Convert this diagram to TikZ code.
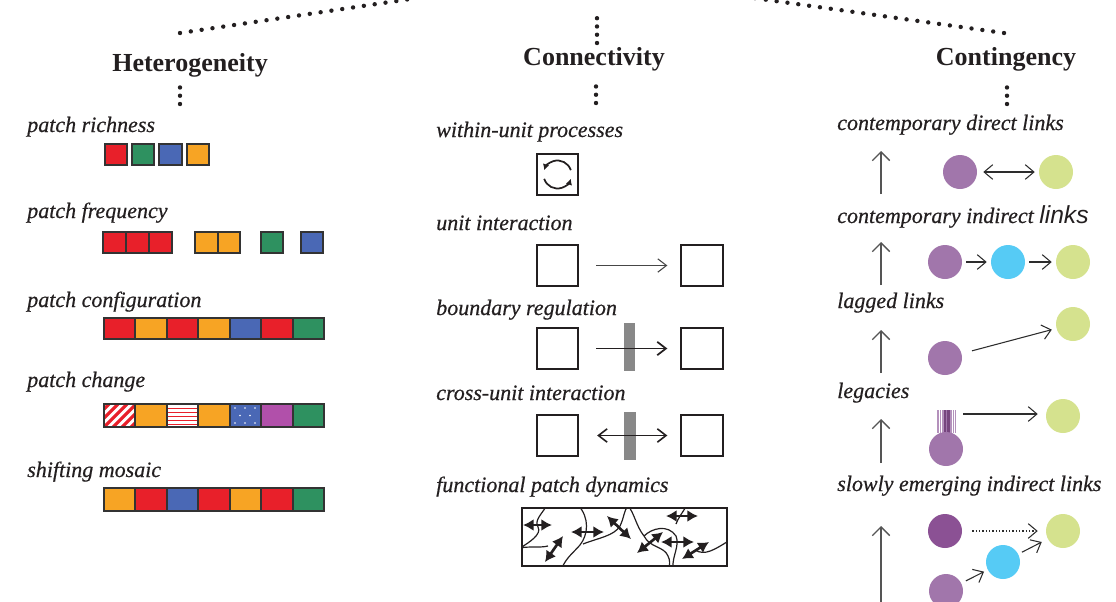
\documentclass[tikz,border=0pt]{standalone}
\usepackage{fontspec}
\setmainfont{Liberation Serif}
\setsansfont{Liberation Sans}
\newfontface\lblfont{Liberation Serif Italic}[FakeBold=0.5]
\usetikzlibrary{arrows.meta}

\definecolor{ink}{RGB}{35,31,32}
\definecolor{pred}{RGB}{232,32,42}
\definecolor{pgreen}{RGB}{46,145,96}
\definecolor{pblue}{RGB}{74,104,181}
\definecolor{porange}{RGB}{247,164,36}
\definecolor{pviolet}{RGB}{177,80,170}
\definecolor{lilac}{RGB}{161,118,171}
\definecolor{plum}{RGB}{139,81,148}
\definecolor{lime}{RGB}{213,226,142}
\definecolor{sky}{RGB}{86,203,245}
\definecolor{gatefill}{RGB}{136,136,136}

\begin{document}
\begin{tikzpicture}[x=0.75pt,y=0.75pt,yscale=-1,xscale=1,
  heading/.style={font=\fontsize{19.5}{22}\selectfont\bfseries, text=ink, inner sep=0pt, anchor=base},
  lbl/.style={font=\fontsize{16.5}{19}\lblfont, text=ink, inner sep=0pt, anchor=base west},
  dotrow/.style={draw=ink, line width=3.3pt, line cap=round, dash pattern=on 0pt off 8.2pt},
  vdotrow/.style={draw=ink, line width=3.3pt, line cap=round, dash pattern=on 0pt off 6.2pt},
  tile/.style={draw={rgb,255:red,51;green,51;blue,51}, line width=0.9pt},
  unit/.style={draw=ink, line width=1.5pt, minimum size=31pt, inner sep=0pt},
  gate/.style={fill=gatefill, minimum width=8.5pt, minimum height=36pt, inner sep=0pt},
  flow/.style={draw=ink, line width=1pt, -{Straight Barb[length=6.5pt,width=10pt]}, shorten <=12.75pt, shorten >=9.75pt},
  spot/.style={circle, minimum size=25.5pt, inner sep=0pt},
  link/.style={draw={rgb,255:red,45;green,45;blue,45}, line width=0.8pt, -{Straight Barb[length=6.5pt,width=11pt]}, shorten <=3pt, shorten >=3pt},
  uparr/.style={draw={rgb,255:red,85;green,85;blue,85}, line width=1pt, -{Straight Barb[length=6.5pt,width=13pt]}},
  twoway/.style={draw=ink, line width=2pt, {Latex[length=8pt,width=9pt]}-{Latex[length=8pt,width=9pt]}}
]
\useasboundingbox (0,0) rectangle (1116,601);

%Dotted Lines: up to the parent
\coordinate (rootL) at (417,-2);
\coordinate (rootM) at (597,17);
\coordinate (rootR) at (754,-2);
\coordinate (hetTop) at (180,33);
\coordinate (conTop) at (597,43);
\coordinate (cgyTop) at (1004,33);
\draw [dotrow] (hetTop) -- (rootL);
\draw [vdotrow] (conTop) -- (rootM);
\draw [dotrow] (cgyTop) -- (rootR);

%Text Node: headings
\node [heading] (het) at (190,71) {Heterogeneity};
\node [heading] (con) at (594,65) {Connectivity};
\node [heading] (cgy) at (1006,65) {Contingency};

%Dotted Lines: below the headings
\coordinate (hetA) at (180,86);
\coordinate (hetB) at (180,104);
\coordinate (conA) at (596,85);
\coordinate (conB) at (596,103);
\coordinate (cgyA) at (1007,86);
\coordinate (cgyB) at (1007,104);
\draw [vdotrow] (hetB) -- (hetA);
\draw [vdotrow] (conB) -- (conA);
\draw [vdotrow] (cgyB) -- (cgyA);

%Text Node: heterogeneity
\node [lbl] (richLbl) at (27,132) {patch richness};
\node [lbl] (freqLbl) at (27,218) {patch frequency};
\node [lbl] (confLbl) at (27,307) {patch configuration};
\node [lbl] (chgLbl) at (27,387) {patch change};
\node [lbl] (mosLbl) at (27,477) {shifting mosaic};

%Shape: Squares (richness)
\draw [tile, fill=pred] (105,144) rectangle (127,165);
\draw [tile, fill=pgreen] (132,144) rectangle (154,165);
\draw [tile, fill=pblue] (159,144) rectangle (182,165);
\draw [tile, fill=porange] (187,144) rectangle (209,165);

%Shape: Squares (frequency)
\draw [tile, fill=pred] (103,232) rectangle (126,253);
\draw [tile, fill=pred] (126,232) rectangle (149,253);
\draw [tile, fill=pred] (149,232) rectangle (172,253);
\draw [tile, fill=porange] (195,232) rectangle (218,253);
\draw [tile, fill=porange] (218,232) rectangle (240,253);
\draw [tile, fill=pgreen] (261,232) rectangle (283,253);
\draw [tile, fill=pblue] (301,232) rectangle (323,253);

%Shape: Squares (configuration)
\draw [tile, fill=pred] (104,318) rectangle (135,339);
\draw [tile, fill=porange] (135,318) rectangle (167,339);
\draw [tile, fill=pred] (167,318) rectangle (198,339);
\draw [tile, fill=porange] (198,318) rectangle (230,339);
\draw [tile, fill=pblue] (230,318) rectangle (261,339);
\draw [tile, fill=pred] (261,318) rectangle (293,339);
\draw [tile, fill=pgreen] (293,318) rectangle (324,339);

%Shape: Squares (change)
\begin{scope}
\clip (104,404) rectangle (135,427);
\draw [pred, line width=2.4pt] (86,427) -- (109,404) (95,427) -- (118,404) (104,427) -- (127,404) (113,427) -- (136,404) (122,427) -- (145,404) (131,427) -- (154,404);
\end{scope}
\draw [tile] (104,404) rectangle (135,427);
\draw [tile, fill=porange] (135,404) rectangle (167,427);
\draw [pred, line width=1.1pt] (167,408.5) -- (198,408.5) (167,412.5) -- (198,412.5) (167,416.5) -- (198,416.5) (167,420.5) -- (198,420.5) (167,424.5) -- (198,424.5);
\draw [tile] (167,404) rectangle (198,427);
\draw [tile, fill=porange] (198,404) rectangle (230,427);
\draw [tile, fill=pblue] (230,404) rectangle (261,427);
\fill [white] (235,408) circle (0.9) (245,408) circle (0.9) (255,408) circle (0.9) (240,415.5) circle (0.9) (250,415.5) circle (0.9) (235,423) circle (0.9) (245,423) circle (0.9) (255,423) circle (0.9);
\draw [tile, fill=pviolet] (261,404) rectangle (293,427);
\draw [tile, fill=pgreen] (293,404) rectangle (324,427);

%Shape: Squares (mosaic)
\draw [tile, fill=porange] (104,488) rectangle (135,511);
\draw [tile, fill=pred] (135,488) rectangle (167,511);
\draw [tile, fill=pblue] (167,488) rectangle (198,511);
\draw [tile, fill=pred] (198,488) rectangle (230,511);
\draw [tile, fill=porange] (230,488) rectangle (261,511);
\draw [tile, fill=pred] (261,488) rectangle (293,511);
\draw [tile, fill=pgreen] (293,488) rectangle (324,511);

%Text Node: connectivity
\node [lbl] (wuLbl) at (436,137) {within-unit processes};
\node [lbl] (uiLbl) at (436,230) {unit interaction};
\node [lbl] (brLbl) at (436,315) {boundary regulation};
\node [lbl] (cuLbl) at (436,400) {cross-unit interaction};
\node [lbl] (fpLbl) at (436,492) {functional patch dynamics};

%Shape: Square with cycle
\node [unit] (wu) at (557.5,174.5) {};
\draw [ink, line width=1.3pt, -{Latex[length=4.5pt,width=5pt]}] ([shift={(-18:14)}]wu.center) arc (-18:-162:14);
\draw [ink, line width=1.3pt, -{Latex[length=4.5pt,width=5pt]}] ([shift={(162:14)}]wu.center) arc (162:18:14);

%Shape: Squares and Straight Lines
\node [unit] (uiA) at (557.5,265.5) {};
\node [unit] (uiB) at (702,265.5) {};
\draw [flow, draw={rgb,255:red,70;green,70;blue,70}, line width=0.8pt] (uiA) -- (uiB);

\node [unit] (brA) at (557.5,348.5) {};
\node [unit] (brB) at (702,348.5) {};
\node [gate] (brG) at (629.5,347) {};
\draw [flow, line width=1.3pt] (brA) -- (brB);

\node [unit] (cuA) at (557.5,435.5) {};
\node [unit] (cuB) at (702,435.5) {};
\node [gate] (cuG) at (630,436) {};
\draw [flow, line width=1.2pt, {Straight Barb[length=6.5pt,width=10pt]}-{Straight Barb[length=6.5pt,width=10pt]}, shorten <=13.5pt] (cuA) -- (cuB);

%Curve Lines: patch borders
\begin{scope}
\clip (522,508) rectangle (727,566);
\draw [ink, line width=0.9pt]
  (547,505) .. controls (542,514) and (534,520) .. (538,527) .. controls (542,534) and (530,542) .. (520,548)
  (520,548) .. controls (530,546) and (540,548) .. (548,546)
  (578,505) .. controls (590,518) and (588,535) .. (580,545) .. controls (573,553) and (566,558) .. (562,568)
  (583,544) .. controls (598,538) and (614,536) .. (620,526) .. controls (624,518) and (624,510) .. (628,506) .. controls (634,512) and (636,526) .. (644,536)
  (644,536) .. controls (652,528) and (668,524) .. (676,536) .. controls (680,546) and (672,556) .. (673,568)
  (644,536) .. controls (650,548) and (664,546) .. (668,556) .. controls (670,560) and (670,564) .. (669,568)
  (687,505) .. controls (683,512) and (678,518) .. (676,524)
  (695,550) .. controls (705,556) and (714,550) .. (730,540);
\end{scope}
\draw [ink, line width=1.2pt] (522,508) rectangle (727,566);

%Straight Lines: fluxes
\draw [twoway] (523,525) -- (552,525);
\draw [twoway] (563,536) -- (545,562);
\draw [twoway] (571,532) -- (604,532);
\draw [twoway] (607,516) -- (631,539);
\draw [twoway] (663,532) -- (637,553);
\draw [twoway] (666,516) -- (698,516);
\draw [twoway] (661,542) -- (694,542);
\draw [twoway] (709,542) -- (682,559);

%Text Node: contingency
\node [lbl] (dlLbl) at (837,130) {contemporary direct links};
\node [lbl] (ilLbl) at (837,223) {contemporary indirect {\sffamily\itshape\fontsize{18.5}{20}\selectfont links}};
\node [lbl] (lgLbl) at (837,308) {lagged links};
\node [lbl] (lcLbl) at (837,398) {legacies};
\node [lbl] (seLbl) at (837,491) {slowly emerging indirect links};

%Straight Lines: upward
\coordinate (upA0) at (881,194); \coordinate (upA1) at (881,151);
\coordinate (upB0) at (881,285); \coordinate (upB1) at (881,242);
\coordinate (upC0) at (881,373); \coordinate (upC1) at (881,330);
\coordinate (upD0) at (881,463); \coordinate (upD1) at (881,419);
\coordinate (upE0) at (881,606); \coordinate (upE1) at (881,526);
\draw [uparr] (upA0) -- (upA1);
\draw [uparr] (upB0) -- (upB1);
\draw [uparr] (upC0) -- (upC1);
\draw [uparr] (upD0) -- (upD1);
\draw [uparr] (upE0) -- (upE1);

%Shape: Circles (direct)
\node [spot, fill=lilac] (dlA) at (960,172) {};
\node [spot, fill=lime] (dlB) at (1056,172) {};
\draw [link, {Straight Barb[length=6.5pt,width=11pt]}-{Straight Barb[length=6.5pt,width=11pt]}, shorten <=4.5pt] (dlA) -- (dlB);

%Shape: Circles (indirect)
\node [spot, fill=lilac] (ilA) at (945,262) {};
\node [spot, fill=sky] (ilB) at (1008,262) {};
\node [spot, fill=lime] (ilC) at (1073,262) {};
\draw [link] (ilA) -- (ilB);
\draw [link] (ilB) -- (ilC);

%Shape: Circles (lagged)
\node [spot, fill=lilac] (lgA) at (945,358) {};
\node [spot, fill=lime] (lgB) at (1073,324) {};
\draw [link, shorten <=8pt, shorten >=3.5pt] (lgA) -- (lgB);

%Shape: Circles (legacies)
\fill [white] (937,410) rectangle (956,433);
\draw [lilac!80, line width=0.9pt] (938,410) -- (938,433) (940.5,410) -- (940.5,433) (943,410) -- (943,433) (951,410) -- (951,433) (953.5,410) -- (953.5,433) (955.5,410) -- (955.5,433);
\fill [plum!85!black] (944,410) rectangle (949.5,433);
\draw [lilac, line width=0.6pt] (946.7,410) -- (946.7,433);
\coordinate (lcS) at (956,414);
\node [spot, fill=lilac] (lcA) at (946,449) {};
\node [spot, fill=lime] (lcB) at (1063,416) {};
\draw [link, shorten <=5.25pt, shorten >=6pt] (lcS) -- (lcB.west |- lcS);

%Shape: Circles (slowly emerging)
\node [spot, fill=plum] (seA) at (945,531) {};
\node [spot, fill=lime] (seB) at (1063,531) {};
\node [spot, fill=sky] (seC) at (1003,562) {};
\node [spot, fill=lilac] (seD) at (946,591) {};
\draw [link, dash pattern=on 1pt off 1.5pt, shorten <=7.5pt, shorten >=6pt] (seA) -- (seB);
\draw [link, shorten <=3.75pt] (seD) -- (seC);
\draw [link, shorten >=5pt] (seC) -- (seB);

\end{tikzpicture}
\end{document}
